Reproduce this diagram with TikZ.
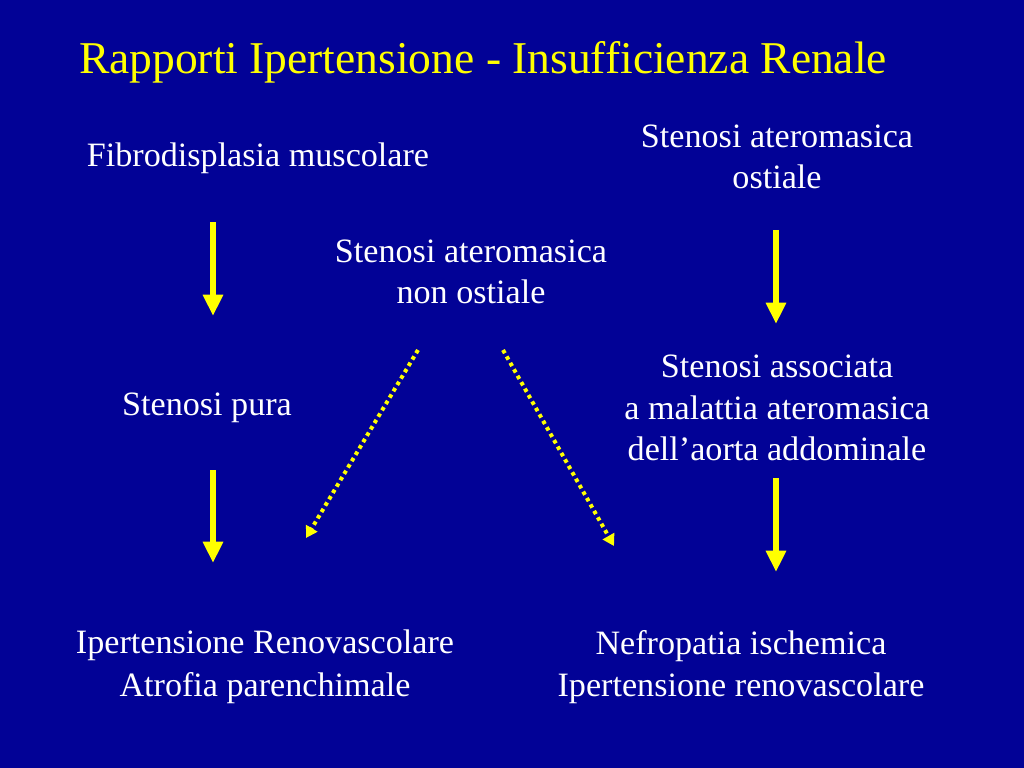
\documentclass[tikz,border=0pt]{standalone}
\usepackage{fontspec}
\setmainfont{Liberation Serif}
\usetikzlibrary{arrows.meta}
\definecolor{bg}{RGB}{2,2,150}
\definecolor{ttl}{RGB}{255,255,0}
\definecolor{arr}{RGB}{255,255,0}
\begin{document}
\begin{tikzpicture}[x=0.703125pt,y=-0.703125pt,
  lbl/.style={text=white,align=center,inner sep=0pt,font=\fontsize{24pt}{29pt}\selectfont},
  solidarrow/.style={draw=arr,line width=4.2pt,-{Triangle[width=13.5pt,length=15pt]}},
  dotarrow/.style={draw=arr,line width=2.8pt,dash pattern=on 2.6pt off 2.6pt,-{Triangle[width=9pt,length=8pt]}}]
\fill[bg] (0,0) rectangle (1024,768);
\useasboundingbox (0,0) rectangle (1024,768);
\node[text=ttl,inner sep=0pt,font=\fontsize{32pt}{38pt}\selectfont] (title) at (483,62) {Rapporti Ipertensione - Insufficienza Renale};
\node[lbl] (fib) at (258,158) {Fibrodisplasia muscolare};
\node[lbl] (ost) at (777,157) {Stenosi ateromasica\\ostiale};
\node[lbl] (nonost) at (471,272) {Stenosi ateromasica\\non ostiale};
\node[lbl] (pura) at (207,408) {Stenosi pura};
\node[lbl] (assoc) at (777,408) {Stenosi associata\\a malattia ateromasica\\dell’aorta addominale};
\node[lbl,font=\fontsize{24pt}{30pt}\selectfont] (iper) at (265,667) {Ipertensione Renovascolare\\Atrofia parenchimale};
\node[lbl,font=\fontsize{24pt}{30pt}\selectfont] (nefro) at (741,667) {Nefropatia ischemica\\Ipertensione renovascolare};
% arrow end points
\coordinate (a1s) at (213,222); \coordinate (a1e) at (213,316);
\coordinate (a2s) at (213,470); \coordinate (a2e) at (213,563);
\coordinate (a3s) at (776,230); \coordinate (a3e) at (776,324);
\coordinate (a4s) at (776,478); \coordinate (a4e) at (776,572);
\coordinate (d1s) at (418,350); \coordinate (d1e) at (306,538);
\coordinate (d2s) at (503,350); \coordinate (d2e) at (614,546);
\draw[solidarrow] (a1s) -- (a1e);
\draw[solidarrow] (a2s) -- (a2e);
\draw[solidarrow] (a3s) -- (a3e);
\draw[solidarrow] (a4s) -- (a4e);
\draw[dotarrow] (d1s) -- (d1e);
\draw[dotarrow] (d2s) -- (d2e);
\end{tikzpicture}
\end{document}
